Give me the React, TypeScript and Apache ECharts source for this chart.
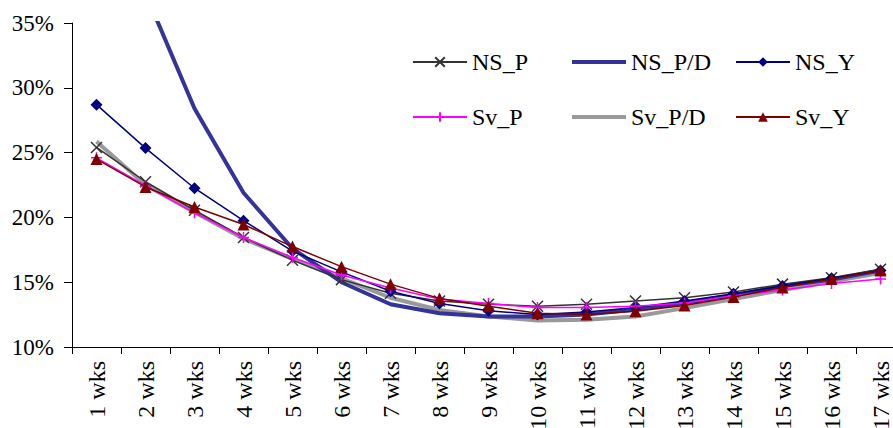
import React, { useEffect, useRef } from 'react';
import * as echarts from 'echarts';

const categories = ['1 wks', '2 wks', '3 wks', '4 wks', '5 wks', '6 wks', '7 wks', '8 wks', '9 wks', '10 wks', '11 wks', '12 wks', '13 wks', '14 wks', '15 wks', '16 wks', '17 wks'];
const nsP = [25.4, 22.75, 20.55, 18.45, 16.7, 15.2, 14.15, 13.55, 13.3, 13.15, 13.3, 13.55, 13.8, 14.25, 14.85, 15.35, 16.0];
const nsPD = [46, 37.3, 28.4, 21.9, 17.6, 15.0, 13.3, 12.6, 12.35, 12.35, 12.5, 12.9, 13.4, 14.0, 14.7, 15.2, 15.9];
const nsY = [28.7, 25.35, 22.25, 19.75, 17.4, 15.8, 14.3, 13.35, 12.8, 12.5, 12.7, 13.05, 13.55, 14.1, 14.7, 15.3, 15.9];
const svP = [24.6, 22.45, 20.35, 18.45, 16.9, 15.55, 14.55, 13.7, 13.35, 13.05, 13.05, 13.15, 13.4, 13.95, 14.4, 14.9, 15.25];
const svPD = [25.85, 22.5, 20.4, 18.35, 16.8, 15.3, 13.8, 12.85, 12.35, 12.05, 12.1, 12.35, 13.0, 13.7, 14.4, 15.05, 15.7];
const svY = [24.5, 22.35, 20.8, 19.45, 17.75, 16.2, 14.85, 13.75, 13.15, 12.6, 12.5, 12.75, 13.2, 13.85, 14.6, 15.25, 15.9];

const FONT = 'Times New Roman, Liberation Serif, serif';
const X_SYM = 'path://M0,0L10,10M10,0L0,10';
const PLUS_SYM = 'path://M5,0L5,10M0,5L10,5';

function lineSeries(name: string, data: number[], color: string, width: number, symbol: string, size: number, z: number) {
  return {
    name,
    type: 'line',
    data,
    symbol,
    symbolSize: size,
    showSymbol: symbol !== 'none',
    lineStyle: { color, width },
    itemStyle: { color, borderColor: color, borderWidth: symbol.startsWith('path') ? 1.5 : 0 },
    z,
  };
}

function legendItem(name: string, left: number, top: number, thick = false) {
  return {
    data: thick ? [{ name, icon: 'rect' }] : [name],
    left,
    top,
    padding: 0,
    itemWidth: 54,
    itemHeight: thick ? 4 : 12,
    textStyle: { fontFamily: FONT, fontSize: 24, color: '#000' },
    selectedMode: false,
  };
}

export default function App() {
  const ref = useRef<HTMLDivElement>(null);
  useEffect(() => {
    if (!ref.current) return;
    const chart = echarts.init(ref.current, null, { renderer: 'svg' });
    chart.setOption({
      animation: false,
      backgroundColor: '#fff',
      grid: { left: 72, top: 23, height: 324, width: 833, containLabel: false, outerBoundsMode: 'none' },
      legend: [
        legendItem('NS_P', 412, 50),
        legendItem('NS_P/D', 572, 50, true),
        legendItem('NS_Y', 735, 50),
        legendItem('Sv_P', 412, 105),
        legendItem('Sv_P/D', 572, 105, true),
        legendItem('Sv_Y', 735, 105),
      ],
      xAxis: {
        type: 'category',
        data: categories,
        boundaryGap: true,
        axisLine: { lineStyle: { color: '#000', width: 1 } },
        axisTick: { show: true, interval: 0, length: 7, lineStyle: { color: '#000' } },
        axisLabel: { interval: 0, rotate: 90, margin: 14, fontFamily: FONT, fontSize: 24, color: '#000' },
        splitLine: { show: false },
      },
      yAxis: {
        type: 'value',
        min: 10,
        max: 35,
        interval: 5,
        axisLine: { show: true, lineStyle: { color: '#000', width: 1 } },
        axisTick: { show: true, length: 8, lineStyle: { color: '#000' } },
        axisLabel: { margin: 18, fontFamily: FONT, fontSize: 23, color: '#000', formatter: (v: number) => `${v}%` },
        splitLine: { show: false },
      },
      series: [
        lineSeries('NS_P', nsP, '#333333', 1.5, X_SYM, 11, 3),
        lineSeries('NS_P/D', nsPD, '#333399', 4, 'none', 0, 2),
        lineSeries('NS_Y', nsY, '#000080', 1.5, 'diamond', 12, 4),
        lineSeries('Sv_P', svP, '#FF00FF', 1.5, PLUS_SYM, 11, 5),
        lineSeries('Sv_P/D', svPD, '#999999', 4, 'none', 0, 1),
        lineSeries('Sv_Y', svY, '#800000', 1.5, 'triangle', 12, 6),
      ],
    });
    return () => chart.dispose();
  }, []);
  return <div ref={ref} style={{ position: 'fixed', left: 0, top: 0, width: 893, height: 428, background: '#fff' }} />;
}
